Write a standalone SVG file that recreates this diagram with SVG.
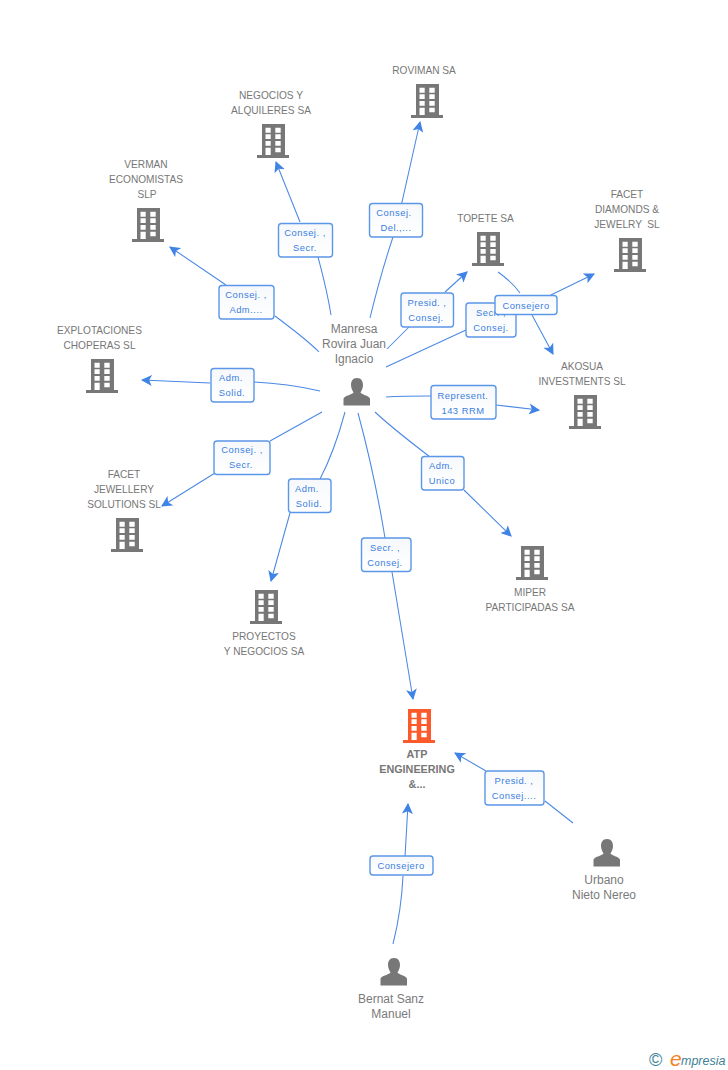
<svg xmlns="http://www.w3.org/2000/svg" width="728" height="1070" viewBox="0 0 728 1070">
<style>
text{font-family:"Liberation Sans",Arial,sans-serif;white-space:pre}
.n{font-size:10.15px;fill:#777;text-anchor:middle}
.p{font-size:12px;fill:#7a7a7a;text-anchor:middle}
.b{font-size:10.8px;font-weight:bold;fill:#777;text-anchor:middle}
.l{font-size:9.4px;fill:#3a80e0;text-anchor:middle;letter-spacing:.5px}
.box{fill:url(#g);stroke:#5b97e8;stroke-width:1.4}
.c path{fill:none;stroke:#4a88e4;stroke-width:1.05;marker-end:url(#a)}
</style>
<defs>
<linearGradient id="g" x1="0" y1="0" x2="0" y2="1"><stop offset="0" stop-color="#f6f8fb"/><stop offset="1" stop-color="#fff"/></linearGradient>
<marker id="a" markerUnits="userSpaceOnUse" markerWidth="11" markerHeight="11" refX="9" refY="5" orient="auto" viewBox="0 0 10 10"><path d="M0,0L10,5L0,10L2.500,5Z" fill="#3f83e6"/></marker>
<symbol id="bld" width="32" height="34" viewBox="0 0 32 34" overflow="visible">
<path fill="currentColor" fill-rule="evenodd" d="M5,0H28V31H32V34H0V31H5ZM8.500,3.700V8.700H13.700V3.700ZM18.300,3.700V8.700H23.700V3.700ZM8.500,10.300V15H13.700V10.300ZM18.300,10.300V15H23.700V10.300ZM8.500,17V21.700H13.700V17ZM18.300,17V21.700H23.700V17ZM8.500,23.700V31H13.700V23.700ZM18.300,23.700V28.300H23.700V23.700Z"/>
</symbol>
<symbol id="per" width="28" height="28" viewBox="0 0 28 28">
<path fill="#777" d="M14,0C18.500,0 20,3.500 20,7C20,10.500 18.500,12.500 17.500,14.500C18.500,16.500 25.500,17.500 27,20.500L27,27.500H0.500V20.500C2,17.500 9.500,16.500 10.500,14.500C9.500,12.500 8,10.500 8,7C8,3.500 9.500,0 14,0Z"/>
</symbol>
</defs>
<rect width="728" height="1070" fill="#fff"/>
<g id="connectors" class="c">
<path d="M370,318C378,285 387,255 393,237C397,222 399,212 402,202L420,122"/>
<path d="M331,315C327,290 322,272 318,257M300,222L276,162"/>
<path d="M319,352C305,338 288,326 275,316M226,285L170,247"/>
<path d="M320,391C298,386 275,383 253,382M210,383L142,380"/>
<path d="M322,412L270,441M215,473L162,506"/>
<path d="M345,412C338,438 330,460 320,479M290,513L271,581"/>
<path d="M375,412C392,428 412,443 430,457M464,490L511,536"/>
<path d="M358,413C368,450 378,495 385,538M392,572L413,699"/>
<path d="M386,397C402,396 416,396 431,396M496,405L539,410"/>
<path d="M387,349L409,327M445,292L467,272"/>
<path d="M386,367L466,330M516,312L594,274"/>
<path d="M498,272C508,279 515,286 520,293M532,315L553,354"/>
<path d="M573,823L545,801M486,771L455,753"/>
<path d="M393,944C399,920 402,898 403,876M405,857L408,804"/>
</g>
<g id="label-rov"><rect class="box" x="369.500" y="203.500" width="53" height="33.500" rx="3"/><text class="l" x="394" y="216">Consej.</text><text class="l" x="396" y="231">Del.,...</text></g>
<g id="label-neg"><rect class="box" x="278.500" y="223.500" width="54" height="33.500" rx="3"/><text class="l" x="305" y="236">Consej. ,</text><text class="l" x="305" y="251">Secr.</text></g>
<g id="label-ver"><rect class="box" x="219" y="285.500" width="55" height="33.500" rx="3"/><text class="l" x="246" y="298">Consej. ,</text><text class="l" x="246" y="313">Adm....</text></g>
<g id="label-exp"><rect class="box" x="211" y="368.500" width="43" height="33.500" rx="3"/><text class="l" x="231" y="381">Adm.</text><text class="l" x="232" y="396">Solid.</text></g>
<g id="label-fj"><rect class="box" x="214" y="441" width="56" height="33.500" rx="3"/><text class="l" x="242" y="453">Consej. ,</text><text class="l" x="241" y="468">Secr.</text></g>
<g id="label-pro"><rect class="box" x="288.500" y="479" width="42.500" height="33.500" rx="3"/><text class="l" x="307" y="492">Adm.</text><text class="l" x="309" y="507">Solid.</text></g>
<g id="label-mip"><rect class="box" x="421.500" y="456.500" width="42.500" height="33.500" rx="3"/><text class="l" x="441" y="469">Adm.</text><text class="l" x="442" y="484">Unico</text></g>
<g id="label-atp"><rect class="box" x="361.500" y="538" width="49.500" height="33.500" rx="3"/><text class="l" x="385" y="551">Secr. ,</text><text class="l" x="385" y="566">Consej.</text></g>
<g id="label-ako"><rect class="box" x="431" y="385.500" width="65" height="33.500" rx="3"/><text class="l" x="463" y="399">Represent.</text><text class="l" x="463" y="414">143 RRM</text></g>
<g id="label-top"><rect class="box" x="401" y="293" width="52.500" height="34" rx="3"/><text class="l" x="427" y="306">Presid. ,</text><text class="l" x="426" y="321">Consej.</text></g>
<g id="label-fd"><rect class="box" x="466" y="303" width="50" height="34" rx="3"/><text class="l" x="491" y="316">Secr. ,</text><text class="l" x="491" y="331">Consej.</text></g>
<g id="label-ta"><rect class="box" x="495" y="295.500" width="62" height="19" rx="3"/><text class="l" x="526" y="309">Consejero</text></g>
<g id="label-urb"><rect class="box" x="485" y="771" width="59" height="34" rx="3"/><text class="l" x="514" y="784">Presid. ,</text><text class="l" x="514" y="799">Consej....</text></g>
<g id="label-ber"><rect class="box" x="370" y="856" width="63" height="19" rx="3"/><text class="l" x="401" y="869">Consejero</text></g>

<g id="roviman" color="#777"><use href="#bld" x="411" y="84"/><text class="n" x="424" y="74">ROVIMAN SA</text></g>
<g id="negocios" color="#777"><use href="#bld" x="257" y="124"/><text class="n" x="271" y="99">NEGOCIOS Y</text><text class="n" x="271" y="114">ALQUILERES SA</text></g>
<g id="verman" color="#777"><use href="#bld" x="132" y="208"/><text class="n" x="146" y="168">VERMAN</text><text class="n" x="146" y="183">ECONOMISTAS</text><text class="n" x="147" y="198">SLP</text></g>
<g id="explotaciones" color="#777"><use href="#bld" x="86" y="359"/><text class="n" x="99.500" y="334">EXPLOTACIONES</text><text class="n" x="99.500" y="349">CHOPERAS SL</text></g>
<g id="facet-jewellery" color="#777"><use href="#bld" x="111" y="518"/><text class="n" x="124" y="478">FACET</text><text class="n" x="124" y="493">JEWELLERY</text><text class="n" x="124" y="508">SOLUTIONS SL</text></g>
<g id="proyectos" color="#777"><use href="#bld" x="250" y="590"/><text class="n" x="264" y="640">PROYECTOS</text><text class="n" x="264" y="655">Y NEGOCIOS SA</text></g>
<g id="miper" color="#777"><use href="#bld" x="516" y="546"/><text class="n" x="530" y="596">MIPER</text><text class="n" x="530" y="611">PARTICIPADAS SA</text></g>
<g id="akosua" color="#777"><use href="#bld" x="569" y="395"/><text class="n" x="582" y="370">AKOSUA</text><text class="n" x="582" y="385">INVESTMENTS SL</text></g>
<g id="topete" color="#777"><use href="#bld" x="472" y="232"/><text class="n" x="485.500" y="222">TOPETE SA</text></g>
<g id="facet-diamonds" color="#777"><use href="#bld" x="614" y="238"/><text class="n" x="627" y="198">FACET</text><text class="n" x="627" y="213">DIAMONDS &amp;</text><text class="n" x="627" y="228">JEWELRY  SL</text></g>
<g id="atp" color="#fd5a2c"><use href="#bld" x="403" y="709"/><text class="b" x="417" y="758">ATP</text><text class="b" x="417" y="773">ENGINEERING</text><text class="b" x="417" y="788">&amp;...</text></g>
<g id="manresa"><use href="#per" x="343" y="378"/><text class="p" x="354" y="333">Manresa</text><text class="p" x="354" y="348">Rovira Juan</text><text class="p" x="354" y="363">Ignacio</text></g>
<g id="urbano"><use href="#per" x="593" y="839"/><text class="p" x="604" y="884">Urbano</text><text class="p" x="604" y="899">Nieto Nereo</text></g>
<g id="bernat"><use href="#per" x="380" y="958"/><text class="p" x="391" y="1003">Bernat Sanz</text><text class="p" x="391" y="1018">Manuel</text></g>
<g id="logo"><text x="649" y="1066" font-size="18" fill="#3d7f96">©</text><text x="670" y="1066" font-size="21" font-style="italic" fill="#f58220">e</text><text x="681" y="1065" font-size="12.500" font-style="italic" fill="#3d7f96">mpresia</text></g>
</svg>
